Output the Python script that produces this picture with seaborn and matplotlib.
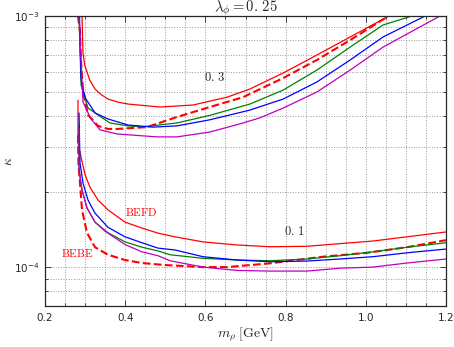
import numpy as np
import matplotlib
matplotlib.use('Agg')
import matplotlib.pyplot as plt
import matplotlib.ticker as mticker
import seaborn as sns

# kappa values are in units of 1e-4

# lambda = 0.3 family
x_03_befd = [0.2923, 0.2935, 0.2948, 0.299, 0.3115, 0.3247, 0.3404, 0.357, 0.382, 0.407, 0.487, 0.569, 0.654, 0.711, 0.794, 0.878, 0.961, 1.053]
k_03_befd = [10.0, 8.5, 7.12, 6.38, 5.56, 5.12, 4.86, 4.67, 4.54, 4.46, 4.34, 4.42, 4.75, 5.12, 5.93, 6.99, 8.25, 9.91]

x_03_bebe = [0.2823, 0.2873, 0.290, 0.295, 0.3072, 0.3322, 0.357, 0.380, 0.454, 0.529, 0.611, 0.694, 0.794, 0.878, 0.961, 1.053]
k_03_bebe = [10.0, 8.64, 6.56, 5.0, 4.04, 3.65, 3.55, 3.55, 3.61, 3.96, 4.34, 4.75, 5.66, 6.68, 8.02, 9.91]

x_03_green = [0.2848, 0.290, 0.3072, 0.3397, 0.362, 0.407, 0.444, 0.529, 0.611, 0.711, 0.794, 0.878, 0.961, 1.043, 1.115]
k_03_green = [10.0, 5.31, 4.30, 3.96, 3.75, 3.65, 3.62, 3.75, 4.02, 4.46, 5.07, 6.09, 7.52, 9.21, 10.0]

x_03_blue = [0.286, 0.290, 0.2948, 0.302, 0.325, 0.357, 0.407, 0.469, 0.529, 0.611, 0.711, 0.794, 0.878, 0.961, 1.043, 1.148]
k_03_blue = [10.0, 5.61, 5.07, 4.67, 4.11, 3.89, 3.68, 3.61, 3.65, 3.86, 4.22, 4.67, 5.46, 6.68, 8.25, 10.0]

x_03_magenta = [0.2848, 0.2948, 0.3147, 0.3372, 0.3796, 0.4793, 0.529, 0.611, 0.694, 0.736, 0.794, 0.878, 0.961, 1.043, 1.185]
k_03_magenta = [10.0, 4.54, 3.89, 3.52, 3.39, 3.30, 3.30, 3.45, 3.75, 3.93, 4.30, 4.98, 6.09, 7.52, 10.0]

# lambda = 0.1 family
x_01_befd = [0.2823, 0.2823, 0.2915, 0.300, 0.3122, 0.3322, 0.3571, 0.3995, 0.4419, 0.4818, 0.5242, 0.594, 0.6788, 0.7611, 0.8534, 0.9357, 1.018, 1.1027, 1.2]
k_01_befd = [4.62, 3.12, 2.67, 2.33, 2.08, 1.85, 1.69, 1.51, 1.43, 1.365, 1.32, 1.26, 1.225, 1.205, 1.21, 1.24, 1.27, 1.32, 1.38]

x_01_bebe = [0.2823, 0.2835, 0.2873, 0.2923, 0.3047, 0.3247, 0.3571, 0.3995, 0.4419, 0.4993, 0.594, 0.6539, 0.7611, 0.8933, 1.003, 1.1027, 1.2]
k_01_bebe = [3.35, 2.55, 2.16, 1.69, 1.37, 1.20, 1.12, 1.067, 1.038, 1.019, 1.00, 1.00, 1.035, 1.10, 1.14, 1.20, 1.28]

x_01_green = [0.2848, 0.2848, 0.2923, 0.3047, 0.3247, 0.3571, 0.3995, 0.4419, 0.4818, 0.5117, 0.594, 0.6788, 0.7611, 0.8534, 0.9357, 1.018, 1.1027, 1.2]
k_01_green = [3.68, 2.43, 2.03, 1.72, 1.51, 1.37, 1.26, 1.20, 1.16, 1.12, 1.084, 1.067, 1.06, 1.077, 1.11, 1.15, 1.20, 1.25]

x_01_blue = [0.2848, 0.2873, 0.2948, 0.3072, 0.3247, 0.3571, 0.3995, 0.4419, 0.4818, 0.5242, 0.594, 0.6788, 0.7611, 0.8534, 0.9357, 1.018, 1.1027, 1.2]
k_01_blue = [4.11, 2.60, 2.16, 1.85, 1.64, 1.44, 1.32, 1.25, 1.19, 1.17, 1.10, 1.067, 1.05, 1.057, 1.077, 1.10, 1.14, 1.18]

x_01_magenta = [0.2848, 0.2848, 0.2923, 0.3047, 0.3247, 0.3496, 0.3995, 0.4419, 0.4818, 0.5117, 0.594, 0.6788, 0.7611, 0.8534, 0.9357, 1.018, 1.1027, 1.2]
k_01_magenta = [3.58, 2.43, 2.03, 1.72, 1.51, 1.39, 1.23, 1.15, 1.11, 1.06, 1.00, 0.97, 0.964, 0.964, 0.99, 1.00, 1.038, 1.077]

curves = [
    (x_03_befd, k_03_befd, '#ff0000', '-', 0.9),
    (x_03_bebe, k_03_bebe, '#ff0000', '--', 1.5),
    (x_03_green, k_03_green, '#008000', '-', 0.9),
    (x_03_blue, k_03_blue, '#0000ff', '-', 0.9),
    (x_03_magenta, k_03_magenta, '#bf00bf', '-', 0.9),
    (x_01_befd, k_01_befd, '#ff0000', '-', 0.9),
    (x_01_bebe, k_01_bebe, '#ff0000', '--', 1.5),
    (x_01_green, k_01_green, '#008000', '-', 0.9),
    (x_01_blue, k_01_blue, '#0000ff', '-', 0.9),
    (x_01_magenta, k_01_magenta, '#bf00bf', '-', 0.9),
]

sns.set_style('ticks')
plt.rcParams['font.family'] = ['DejaVu Sans']
plt.rcParams['mathtext.fontset'] = 'cm'

fig = plt.figure(figsize=(4.54, 3.47), dpi=100)
ax = fig.add_axes([0.0991, 0.1182, 0.8833, 0.8357])

for xs, ks, col, ls, lw in curves:
    sns.lineplot(x=np.array(xs), y=np.array(ks) * 1e-4, ax=ax, color=col,
                 linestyle=ls, lw=lw, estimator=None, sort=False)

ax.set_yscale('log')
ax.set_xlim(0.2, 1.2)
ax.set_ylim(7e-5, 1e-3)

ax.xaxis.set_major_locator(mticker.MultipleLocator(0.2))
ax.xaxis.set_minor_locator(mticker.MultipleLocator(0.05))
ax.xaxis.set_major_formatter(mticker.FormatStrFormatter('%.1f'))
ax.yaxis.set_major_locator(mticker.LogLocator(base=10))
ax.yaxis.set_minor_locator(mticker.LogLocator(base=10, subs=np.arange(2, 10)))
ax.yaxis.set_minor_formatter(mticker.NullFormatter())

ax.tick_params(which='both', direction='in', top=True, right=True, labelsize=7.5)
ax.tick_params(which='major', length=4, width=0.6)
ax.tick_params(which='minor', length=2, width=0.6)
ax.tick_params(axis='x', pad=5)
ax.tick_params(axis='y', pad=4)
ax.grid(True, which='both', linestyle=':', color='0.6', lw=0.7)
for sp in ax.spines.values():
    sp.set_linewidth(0.9)

# title sits right on top of the frame
ax.text(0.5, 1.015, r'$\lambda_\phi = 0.\,25$', fontsize=10.5, ha='center', va='baseline',
        transform=ax.transAxes)
ax.set_xlabel(r'$m_\rho\;[\mathrm{GeV}]$', fontsize=10, labelpad=2)
ax.set_ylabel(r'$\kappa$', fontsize=9.5)
ax.yaxis.set_label_coords(-0.074, 0.5)

ax.text(0.624, 5.71e-4, r'$0.\,3$', fontsize=9, ha='center', va='center')
ax.text(0.821, 1.39e-4, r'$0.\,1$', fontsize=9, ha='center', va='center')
ax.text(0.439, 1.66e-4, r'$\mathrm{BEFD}$', fontsize=8, color='#ff0000', ha='center', va='center')
ax.text(0.280, 1.14e-4, r'$\mathrm{BEBE}$', fontsize=8, color='#ff0000', ha='center', va='center')

fig.savefig('out.png', dpi=100)
